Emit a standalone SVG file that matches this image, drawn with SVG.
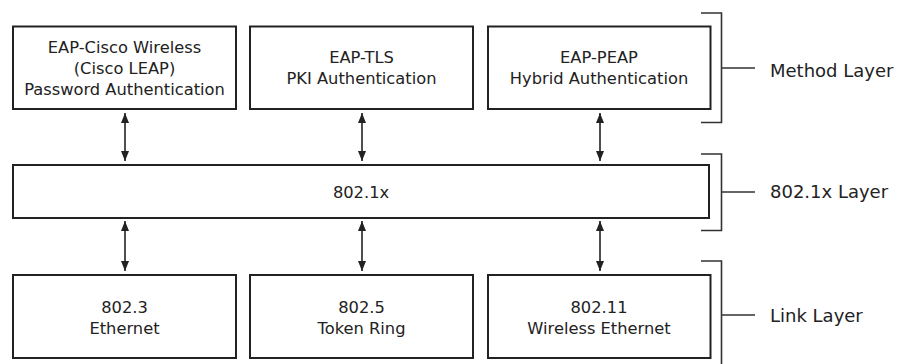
<svg xmlns="http://www.w3.org/2000/svg" width="905" height="364" viewBox="0 0 905 364">
<style>
.box{fill:#fff;stroke:#222;stroke-width:2}
.t{font-family:"DejaVu Sans",sans-serif;font-size:16.3px;fill:#222;text-anchor:middle}
.lbl{font-family:"DejaVu Sans",sans-serif;font-size:18px;fill:#222}
.br{fill:none;stroke:#333;stroke-width:1.6}
.con{stroke:#222;stroke-width:1.6;fill:none;marker-start:url(#ah);marker-end:url(#ah)}
</style>
<defs>
<marker id="ah" viewBox="0 0 10 8" refX="10" refY="4" markerWidth="10" markerHeight="8" markerUnits="userSpaceOnUse" orient="auto-start-reverse">
<path d="M0,0 L10,4 L0,8 Z" fill="#222"/>
</marker>
</defs>
<rect width="905" height="364" fill="#fff"/>
<g id="eap-cisco">
<rect class="box" x="13" y="26.5" width="223" height="82.5"/>
<text class="t" x="124.5" y="53">EAP-Cisco Wireless</text>
<text class="t" x="124.5" y="74">(Cisco LEAP)</text>
<text class="t" x="124.5" y="95">Password Authentication</text>
</g>
<g id="eap-tls">
<rect class="box" x="250" y="26.5" width="223" height="82.5"/>
<text class="t" x="361.5" y="63">EAP-TLS</text>
<text class="t" x="361.5" y="84">PKI Authentication</text>
</g>
<g id="eap-peap">
<rect class="box" x="488" y="26.5" width="222.5" height="82.5"/>
<text class="t" x="599" y="63">EAP-PEAP</text>
<text class="t" x="599" y="84">Hybrid Authentication</text>
</g>
<g id="dot1x">
<rect class="box" x="13" y="165" width="696" height="53"/>
<text class="t" x="361" y="198">802.1x</text>
</g>
<g id="eth">
<rect class="box" x="13" y="275" width="223" height="83"/>
<text class="t" x="124.5" y="312.5">802.3</text>
<text class="t" x="124.5" y="333.5">Ethernet</text>
</g>
<g id="token">
<rect class="box" x="250" y="275" width="223" height="83"/>
<text class="t" x="361.5" y="312.5">802.5</text>
<text class="t" x="361.5" y="333.5">Token Ring</text>
</g>
<g id="wifi">
<rect class="box" x="488" y="275" width="222.5" height="83"/>
<text class="t" x="599" y="312.5">802.11</text>
<text class="t" x="599" y="333.5">Wireless Ethernet</text>
</g>
<g id="connectors">
<line class="con" x1="125" y1="113" x2="125" y2="161"/>
<line class="con" x1="362" y1="113" x2="362" y2="161"/>
<line class="con" x1="600" y1="113" x2="600" y2="161"/>
<line class="con" x1="125" y1="221" x2="125" y2="271"/>
<line class="con" x1="362" y1="221" x2="362" y2="271"/>
<line class="con" x1="600" y1="221" x2="600" y2="271"/>
</g>
<g id="method-layer">
<path class="br" d="M701,13 H721.5 V122.5 H701 M721.5,68 H755"/>
<text class="lbl" x="770" y="77">Method Layer</text>
</g>
<g id="dot1x-layer">
<path class="br" d="M701,154 H721.5 V230.5 H701 M721.5,192 H755"/>
<text class="lbl" x="770" y="198">802.1x Layer</text>
</g>
<g id="link-layer">
<path class="br" d="M701,261 H721.5 V364 M721.5,315 H755"/>
<text class="lbl" x="770" y="321.5">Link Layer</text>
</g>
</svg>
